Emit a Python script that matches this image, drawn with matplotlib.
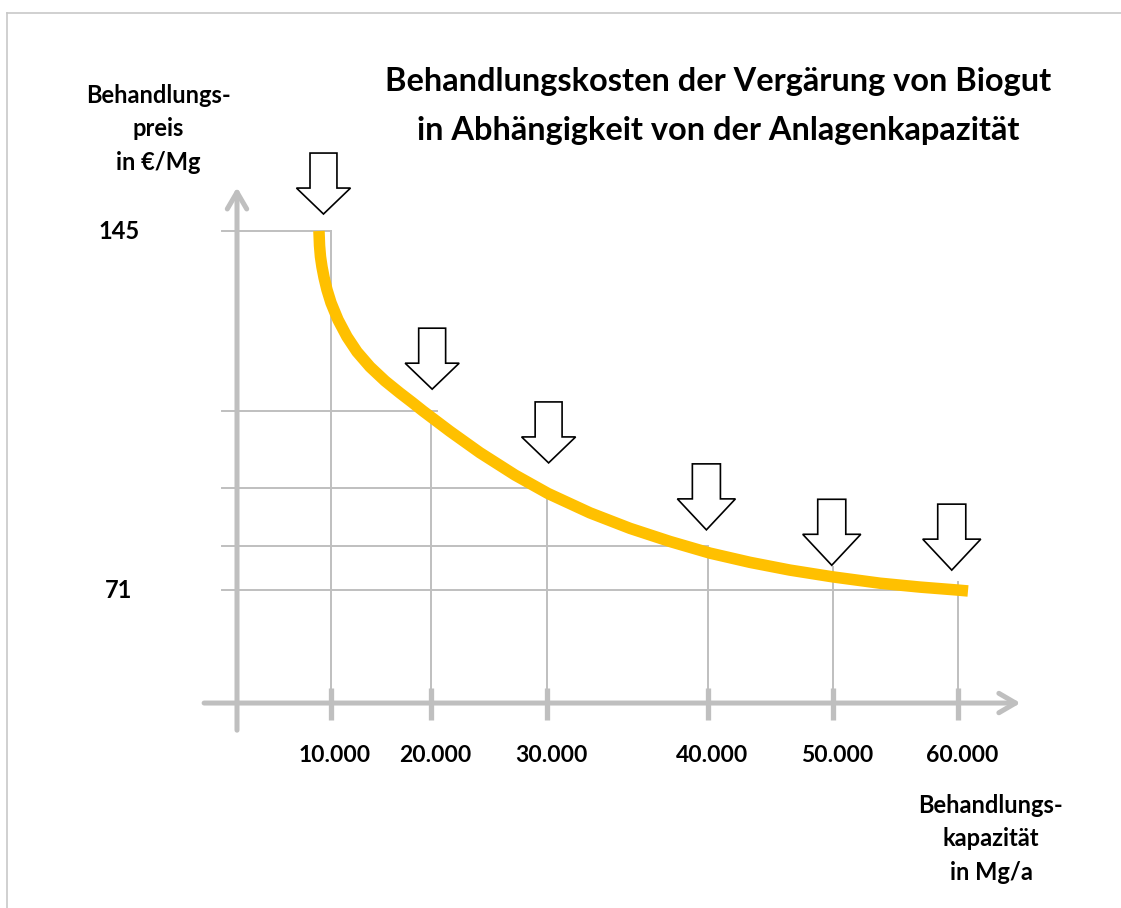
import numpy as np
import matplotlib.pyplot as plt
import matplotlib.transforms as mtransforms
from matplotlib.lines import Line2D

# --- Werte ---
kap_ticks = [10000, 20000, 30000, 40000, 50000, 60000]
kap_labels = ['10.000', '20.000', '30.000', '40.000', '50.000', '60.000']
preis_labels = [145, 71]

kurve_kap = [8720, 8780, 8880, 9040, 9260, 9570, 10000, 10700, 11600, 12600,
             13900, 15400, 16900, 18100, 19200, 21640, 24220, 27240, 30060,
             32670, 35160, 37640, 40160, 43360, 46560, 50000, 53760, 56960,
             59920, 60800]
kurve_preis = [145.0, 142.0, 139.7, 137.6, 135.4, 132.9, 130.2, 126.7, 123.2, 120.1,
               117.0, 114.1, 111.6, 109.7, 107.9, 103.7, 99.3, 94.7, 90.9,
               86.9, 83.7, 81.0, 78.6, 76.7, 75.1, 73.7, 72.4, 71.6,
               71.0, 70.8]

# Hilfslinien
hlinie_preis = [145, 108, 92, 80, 71]
hlinie_bis = [10000, 20500, 30000, 40000, 60000]
vlinie_bis = [145, 108, 92, 78, 75.7, 72.6]

# Pfeile (Spitze)
pfeil_kap = [9200, 20100, 30100, 39900, 49900, 59500]
pfeil_preis = [148.5, 112.4, 97.2, 83.4, 76.1, 75.1]
pfeil_gross = [False, False, False, True, True, True]

# --- Achsen-Layout (schematische x-Achse, ungleiche Abstaende) ---
W, H = 1121, 908
kap_knoten = [-40000, 0, 10000, 20000, 30000, 40000, 50000, 60000, 100000]
px_knoten = [237 - 376, 237, 331, 431, 547, 708, 833, 958, 958 + 500]


def fwd(x):
    return np.interp(x, kap_knoten, px_knoten)


def inv(p):
    return np.interp(p, px_knoten, kap_knoten)


k = (590 - 231) / (145 - 71)
grau = '#bfbfbf'
plt.rcParams['font.family'] = ['Lato', 'DejaVu Sans']

fig = plt.figure(figsize=(W / 100, H / 100), dpi=100)
ax = fig.add_axes([0, 0, 1, 1])
ax.set_xscale('function', functions=(fwd, inv))
ax.set_xlim(inv(0), inv(W))
ax.set_ylim(145 - (H - 231) / k, 145 + 231 / k)
ax.axis('off')

# Rahmen
fig.add_artist(Line2D([7 / W, 7 / W], [0, 1 - 13 / H], color='#c8c8c8', lw=1.2))
fig.add_artist(Line2D([7 / W, 1], [1 - 13 / H, 1 - 13 / H], color='#c8c8c8', lw=1.2))

# Hilfslinien
for p, b in zip(hlinie_preis, hlinie_bis):
    ax.plot([-1600, b], [p, p], color=grau, lw=1.4, zorder=1)
for t, b in zip(kap_ticks, vlinie_bis):
    ax.plot([t, t], [47.7, b], color=grau, lw=1.4, zorder=1)
    ax.plot([t, t], [44.2, 50.8], color=grau, lw=3.8, zorder=2, solid_capstyle='butt')

# Achsen mit Pfeilspitzen
ax.annotate('', xy=(65000, 47.7), xytext=(-3500, 47.7),
            arrowprops=dict(arrowstyle='->,head_length=12,head_width=7', mutation_scale=1,
                            lw=3.6, color=grau, shrinkA=0, shrinkB=0), zorder=2)
ax.annotate('', xy=(0, 154), xytext=(0, 42.1),
            arrowprops=dict(arrowstyle='->,head_length=12,head_width=7', mutation_scale=1,
                            lw=3.6, color=grau, shrinkA=0, shrinkB=0), zorder=2)

# Kurve
ax.plot(kurve_kap, kurve_preis, color='#ffc000', lw=8.3, solid_capstyle='butt',
        solid_joinstyle='round', zorder=3)

# Blockpfeile
for x, y, g in zip(pfeil_kap, pfeil_preis, pfeil_gross):
    if g:
        L, hl, hw, tw = 47.5, 22.3, 41.8, 20.2
    else:
        L, hl, hw, tw = 43.9, 18.7, 38.9, 19.4
    ax.annotate('', xy=(x, y), xytext=(0, L), textcoords='offset points',
                arrowprops=dict(arrowstyle=f'simple,head_length={hl},head_width={hw},tail_width={tw}',
                                mutation_scale=1, fc='white', ec='black', lw=1.2,
                                joinstyle='miter', shrinkA=0, shrinkB=0), zorder=4)

# Beschriftungen
off = mtransforms.offset_copy(ax.transData, fig, x=4, y=0, units='dots')
for t, lab in zip(kap_ticks, kap_labels):
    ax.text(t, 145 - (756 - 231) / k, lab, transform=off, ha='center', va='center',
            fontsize=16.5, fontweight='bold')
for p in preis_labels:
    ax.text(-12550, p, str(p), ha='center', va='center', fontsize=17, fontweight='bold')

fig.text(158.5 / W, 1 - 129 / H, 'Behandlungs-\npreis\nin €/Mg', ha='center', va='center',
         fontsize=17, fontweight='bold', linespacing=1.55)
fig.text(991 / W, 1 - 839 / H, 'Behandlungs-\nkapazität\nin Mg/a', ha='center', va='center',
         fontsize=17, fontweight='bold', linespacing=1.55)
fig.text(718 / W, 1 - 106 / H,
         'Behandlungskosten der Vergärung von Biogut\nin Abhängigkeit von der Anlagenkapazität',
         ha='center', va='center', fontsize=23.4, fontweight='bold', linespacing=1.8)

fig.savefig('out.png', dpi=100)
plt.close(fig)
